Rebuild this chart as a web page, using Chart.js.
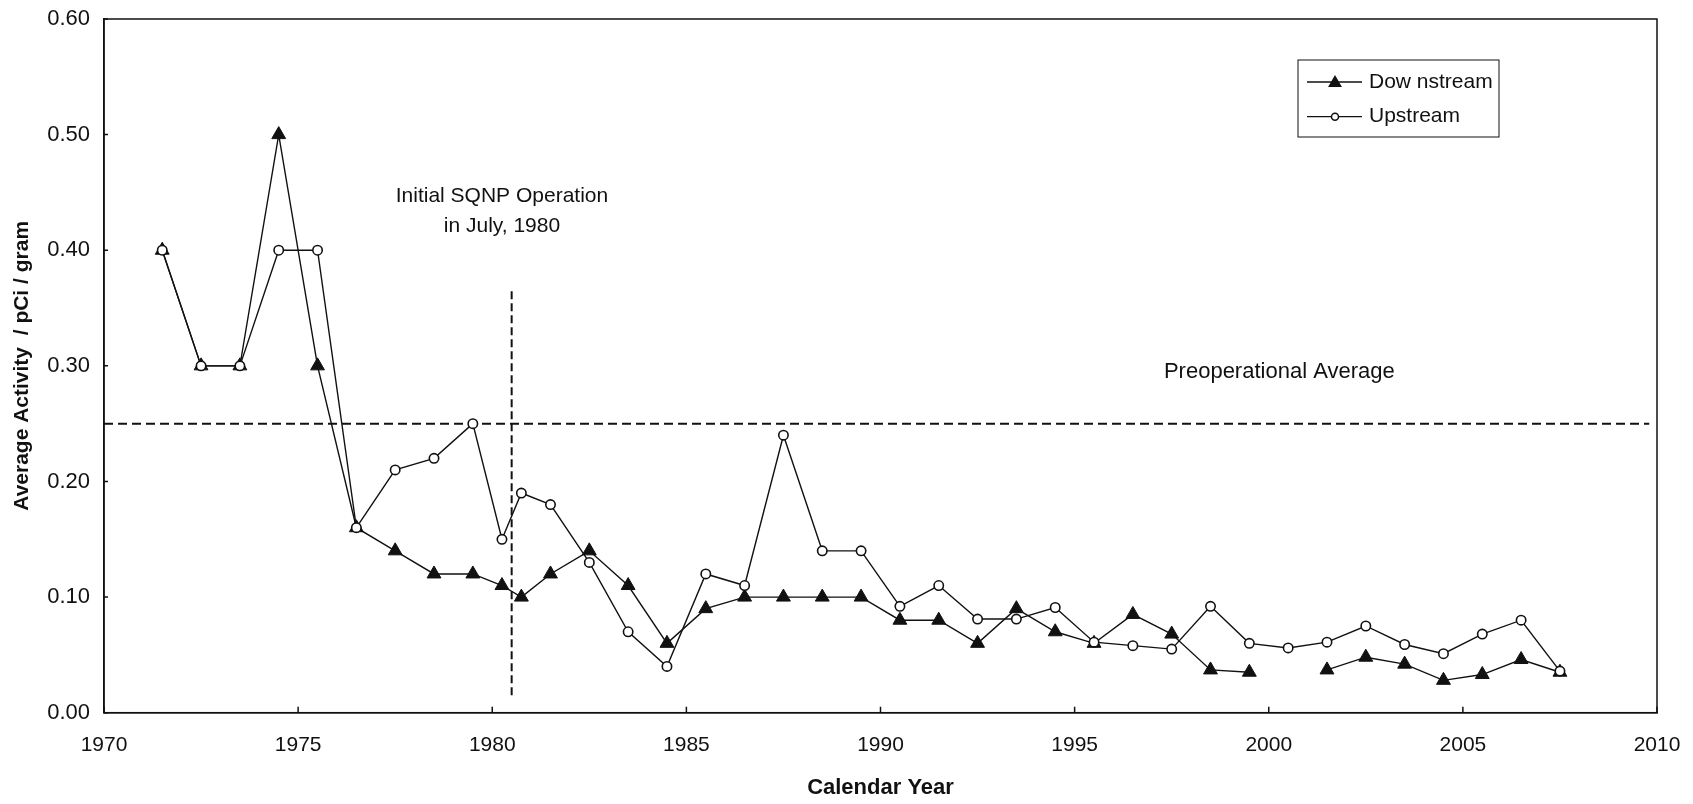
<!DOCTYPE html>
<html>
<head>
<meta charset="utf-8">
<script src="https://cdn.jsdelivr.net/npm/chart.js@4.4.1/dist/chart.umd.min.js"></script>
<style>
  html, body { margin: 0; padding: 0; background: #fff; }
</style>
</head>
<body>
<canvas id="chart" width="1693" height="804"></canvas>
<script>
// sample years (plotted mid-year)
const years = [1971.5, 1972.5, 1973.5, 1974.5, 1975.5, 1976.5, 1977.5, 1978.5, 1979.5, 1980.25,
  1980.75, 1981.5, 1982.5, 1983.5, 1984.5, 1985.5, 1986.5, 1987.5, 1988.5, 1989.5,
  1990.5, 1991.5, 1992.5, 1993.5, 1994.5, 1995.5, 1996.5, 1997.5, 1998.5, 1999.5,
  2000.5, 2001.5, 2002.5, 2003.5, 2004.5, 2005.5, 2006.5, 2007.5];
const downstream = [0.40, 0.30, 0.30, 0.50, 0.30, 0.16, 0.14, 0.12, 0.12, 0.11,
  0.10, 0.12, 0.14, 0.11, 0.06, 0.09, 0.10, 0.10, 0.10, 0.10,
  0.08, 0.08, 0.06, 0.09, 0.07, 0.06, 0.085, 0.068, 0.037, 0.035,
  null, 0.037, 0.048, 0.042, 0.028, 0.033, 0.046, 0.035];
const upstream = [0.40, 0.30, 0.30, 0.40, 0.40, 0.16, 0.21, 0.22, 0.25, 0.15,
  0.19, 0.18, 0.13, 0.07, 0.04, 0.12, 0.11, 0.24, 0.14, 0.14,
  0.092, 0.11, 0.081, 0.081, 0.091, 0.061, 0.058, 0.055, 0.092, 0.060,
  0.056, 0.061, 0.075, 0.059, 0.051, 0.068, 0.080, 0.036];

const xTicks = [1970, 1975, 1980, 1985, 1990, 1995, 2000, 2005, 2010];
const yTicks = [0, 0.1, 0.2, 0.3, 0.4, 0.5, 0.6];

const preopAverage = 0.25;
const preopSpan = [1970, 2009.8];
const operationYear = 1980.5;
const operationSpan = [0.015, 0.365];

const seriesLabels = ['Dow nstream', 'Upstream'];
const noteLines = ['Initial SQNP Operation', 'in July, 1980'];
const preopLabel = 'Preoperational Average';

const FONT = '"Liberation Sans", Arial, sans-serif';
const INK = '#111';

Chart.defaults.font.family = FONT;
Chart.defaults.color = INK;

const pts = arr => years.map((yr, i) => ({ x: yr, y: arr[i] }));

function drawMarker(ctx, style, x, y) {
  ctx.beginPath();
  if (style === 'triangle') {
    const r = 8;
    ctx.moveTo(x, y - r);
    ctx.lineTo(x + r * 0.866, y + r * 0.5);
    ctx.lineTo(x - r * 0.866, y + r * 0.5);
    ctx.closePath();
    ctx.fillStyle = INK;
    ctx.fill();
  } else {
    ctx.arc(x, y, 3.5, 0, Math.PI * 2);
    ctx.fillStyle = '#fff';
    ctx.fill();
    ctx.lineWidth = 1.5;
    ctx.stroke();
  }
}

const decorations = {
  id: 'decorations',
  afterDraw(chart) {
    const { ctx, chartArea: a, scales: { x, y } } = chart;
    ctx.save();
    ctx.strokeStyle = INK;
    ctx.lineWidth = 1.5;
    ctx.strokeRect(a.left, a.top, a.right - a.left, a.bottom - a.top);

    // small tick marks pointing into the plot
    ctx.beginPath();
    xTicks.forEach(v => {
      const px = x.getPixelForValue(v);
      ctx.moveTo(px, a.bottom);
      ctx.lineTo(px, a.bottom - 6);
    });
    yTicks.forEach(v => {
      const py = y.getPixelForValue(v);
      ctx.moveTo(a.left, py);
      ctx.lineTo(a.left + 4, py);
    });
    ctx.stroke();

    // notes
    ctx.fillStyle = INK;
    ctx.font = '21px ' + FONT;
    ctx.textAlign = 'center';
    ctx.textBaseline = 'middle';
    ctx.fillText(noteLines[0], x.getPixelForValue(1980.25), y.getPixelForValue(0.447));
    ctx.fillText(noteLines[1], x.getPixelForValue(1980.25), y.getPixelForValue(0.421));
    ctx.font = '22px ' + FONT;
    ctx.textAlign = 'left';
    ctx.fillText(preopLabel, x.getPixelForValue(1997.3), y.getPixelForValue(0.295));

    // legend box
    ctx.font = '21px ' + FONT;
    const lx = a.right - 359, ly = a.top + 41, lw = 201, lh = 77;
    ctx.lineWidth = 1;
    ctx.strokeRect(lx, ly, lw, lh);
    ['triangle', 'circle'].forEach((st, i) => {
      const cy = ly + 22 + i * 34.7;
      ctx.lineWidth = 1.3;
      ctx.strokeStyle = INK;
      ctx.beginPath();
      ctx.moveTo(lx + 9, cy);
      ctx.lineTo(lx + 64, cy);
      ctx.stroke();
      drawMarker(ctx, st, lx + 37, cy + (st === 'triangle' ? 1 : 0));
      ctx.fillStyle = INK;
      ctx.textAlign = 'left';
      ctx.fillText(seriesLabels[i], lx + 71, cy);
    });
    ctx.restore();
  }
};

new Chart(document.getElementById('chart').getContext('2d'), {
  type: 'line',
  data: {
    datasets: [
      {
        label: seriesLabels[0],
        data: pts(downstream),
        borderColor: INK,
        borderWidth: 1.4,
        pointStyle: 'triangle',
        pointRadius: 8,
        pointBackgroundColor: INK,
        pointBorderColor: INK,
        pointBorderWidth: 1,
        spanGaps: false,
        tension: 0,
        order: 2
      },
      {
        label: seriesLabels[1],
        data: pts(upstream),
        borderColor: INK,
        borderWidth: 1.4,
        pointStyle: 'circle',
        pointRadius: 4.7,
        pointBackgroundColor: '#fff',
        pointBorderColor: INK,
        pointBorderWidth: 1.6,
        tension: 0,
        order: 1
      },
      {
        label: 'preop',
        data: preopSpan.map(v => ({ x: v, y: preopAverage })),
        borderColor: INK,
        borderWidth: 2,
        borderDash: [9, 5],
        pointRadius: 0,
        order: 3
      },
      {
        label: 'operation',
        data: operationSpan.map(v => ({ x: operationYear, y: v })),
        borderColor: INK,
        borderWidth: 2,
        borderDash: [8, 4],
        pointRadius: 0,
        order: 3
      }
    ]
  },
  options: {
    responsive: false,
    animation: false,
    layout: { padding: { left: 0, right: 36, top: 19, bottom: 0 } },
    plugins: {
      legend: { display: false },
      tooltip: { enabled: false }
    },
    scales: {
      x: {
        type: 'linear',
        min: 1970,
        max: 2010,
        afterBuildTicks: s => { s.ticks = xTicks.map(v => ({ value: v })); },
        afterFit: s => { s.height = 91.3; s.paddingLeft = 0; s.paddingRight = 0; },
        grid: { display: false, drawTicks: false },
        border: { display: true, color: INK, width: 1.5 },
        ticks: {
          padding: 20,
          maxRotation: 0,
          autoSkip: false,
          font: { size: 21 },
          color: INK,
          callback: v => String(v)
        },
        title: {
          display: true,
          text: 'Calendar Year',
          font: { size: 22, weight: 'bold' },
          color: INK,
          padding: { top: 0, bottom: 3 }
        }
      },
      y: {
        min: 0,
        max: 0.6,
        afterBuildTicks: s => { s.ticks = yTicks.map(v => ({ value: v })); },
        afterFit: s => { s.width = 104; s.paddingTop = 0; s.paddingBottom = 0; },
        grid: { display: false, drawTicks: false },
        border: { display: true, color: INK, width: 1.5 },
        ticks: {
          padding: 14,
          font: { size: 22 },
          color: INK,
          callback: v => v.toFixed(2)
        },
        title: {
          display: true,
          text: 'Average Activity  / pCi / gram',
          font: { size: 21, weight: 'bold' },
          color: INK,
          padding: { top: 10, bottom: 0 }
        }
      }
    }
  },
  plugins: [decorations]
});
</script>
</body>
</html>
